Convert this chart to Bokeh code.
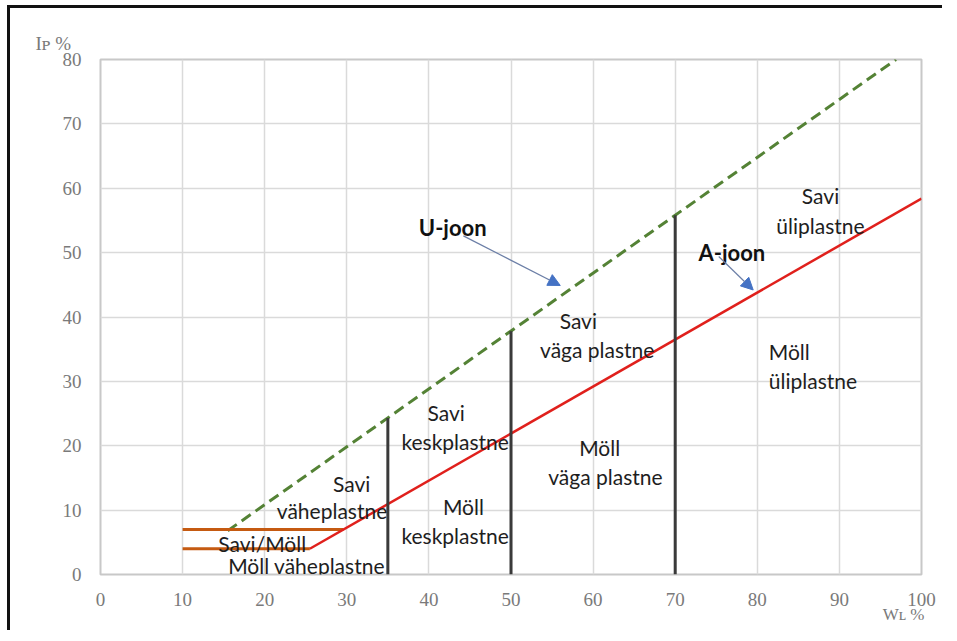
from bokeh.plotting import figure
from bokeh.models import Range1d, FixedTicker, Arrow, NormalHead, Title
from bokeh.core.properties import value
from bokeh.embed import file_html
from bokeh.resources import INLINE

# ---- data ----
x_ticks = [0, 10, 20, 30, 40, 50, 60, 70, 80, 90, 100]
y_ticks = [0, 10, 20, 30, 40, 50, 60, 70, 80]

u_line_x = [15.5, 96.9]
u_line_y = [6.8, 80.0]

a_line_x = [25.5, 100.0]
a_line_y = [4.0, 58.4]

lower_band_x = [10.0, 25.5]
lower_band_y = [4.0, 4.0]
upper_band_x = [10.0, 29.6]
upper_band_y = [7.0, 7.0]

div_x = [35, 50, 70]
div_top = [24.3, 37.8, 55.8]

region_text = ["Savi", "üliplastne", "Savi", "väga plastne", "Savi", "keskplastne",
               "Savi", "väheplastne", "Möll", "keskplastne", "Möll", "väga plastne",
               "Savi/Möll", "Möll väheplastne"]
region_x = [87.7, 87.7, 58.2, 60.5, 42.1, 43.2, 30.6, 28.2, 44.2, 43.2, 60.8, 61.5, 19.7, 25.1]
region_y = [58.9, 54.2, 39.4, 35.0, 25.1, 20.7, 14.2, 9.9, 10.6, 6.1, 19.8, 15.3, 4.8, 1.4]

left_text = ["Möll", "üliplastne"]
left_x = [81.4, 81.4]
left_y = [34.7, 30.2]

line_names = ["U-joon", "A-joon"]
name_x = [42.9, 76.9]
name_y = [53.9, 50.0]
arrow_x0 = [44.2, 75.3]
arrow_y0 = [52.6, 49.4]
arrow_x1 = [56.0, 79.5]
arrow_y1 = [44.9, 44.2]

y_title = "Iᴘ %"
x_title = "Wʟ %"

# ---- figure ----
p = figure(frame_width=821, frame_height=515,
           x_range=Range1d(0, 100), y_range=Range1d(0, 80),
           output_backend="svg", toolbar_location=None,
           min_border_left=90, min_border_right=24,
           min_border_top=51, min_border_bottom=59,
           background_fill_color="white", border_fill_color="white",
           outline_line_color="#c8c8c8")
p.styles = {"margin-top": "8px", "margin-left": "10px",
            "box-shadow": "-3px -3px 0px 0px #111111"}

p.outline_line_width = 2
for g in (p.xgrid, p.ygrid):
    g.grid_line_color = "#dadada"
    g.grid_line_width = 1.5
p.xgrid.ticker = FixedTicker(ticks=x_ticks)
p.ygrid.ticker = FixedTicker(ticks=y_ticks)

p.xaxis.ticker = FixedTicker(ticks=x_ticks)
p.yaxis.ticker = FixedTicker(ticks=y_ticks)
for ax in (p.xaxis, p.yaxis):
    ax.axis_line_color = None
    ax.major_tick_line_color = None
    ax.minor_tick_line_color = None
    ax.major_tick_out = 0
    ax.major_tick_in = 0
    ax.major_label_text_font = "Liberation Serif"
    ax.major_label_text_font_size = "19px"
    ax.major_label_text_color = "#7a7a7a"
p.xaxis.major_label_standoff = 18
p.yaxis.major_label_standoff = 19

# x axis title, bottom right, pulled up next to the last tick label
p.add_layout(Title(text=x_title, align="right", offset=-3, standoff=-12,
                   vertical_align="bottom",
                   text_font="Liberation Serif", text_font_style="normal",
                   text_font_size="17px", text_color="#7a7a7a"), "below")

# y axis title above the frame
p.add_layout(Title(text=y_title, align="left", offset=-65, standoff=12,
                   text_font="Liberation Serif", text_font_style="normal",
                   text_font_size="19px", text_color="#7a7a7a"), "above")

# lines
p.line(u_line_x, u_line_y, line_color="#548235", line_width=3, line_dash="11 6")
p.line(lower_band_x, lower_band_y, line_color="#c55a11", line_width=3)
p.line(upper_band_x, upper_band_y, line_color="#c55a11", line_width=3)
p.line(a_line_x, a_line_y, line_color="#e0201c", line_width=2.5)
p.segment(x0=div_x, y0=[0] * len(div_x), x1=div_x, y1=div_top,
          line_color="#3a3a3a", line_width=3)

# region labels
font = value("Lato")
p.text(x=region_x, y=region_y, text=region_text, text_font=font,
       text_font_size="21px", text_color="#1e1e1e",
       text_align="center", text_baseline="middle")
p.text(x=left_x, y=left_y, text=left_text, text_font=font,
       text_font_size="21px", text_color="#1e1e1e",
       text_align="left", text_baseline="middle")
p.text(x=name_x, y=name_y, text=line_names, text_font=font,
       text_font_size="22px", text_font_style="bold", text_color="#111111",
       text_align="center", text_baseline="middle")

for xs, ys, xe, ye in zip(arrow_x0, arrow_y0, arrow_x1, arrow_y1):
    p.add_layout(Arrow(end=NormalHead(size=12, fill_color="#4472c4", line_color="#4472c4"),
                       x_start=xs, y_start=ys, x_end=xe, y_end=ye,
                       line_color="#6b7ea6", line_width=1.2))

open("out.html", "w").write(file_html(p, INLINE))
